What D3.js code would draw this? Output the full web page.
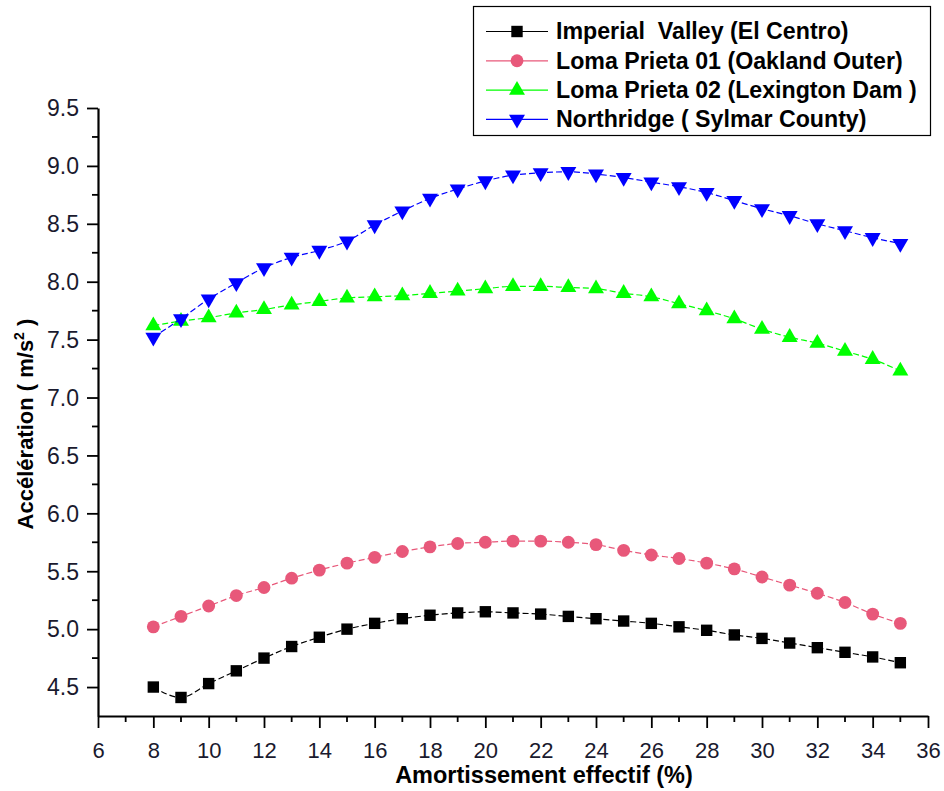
<!DOCTYPE html>
<html><head><meta charset="utf-8">
<script src="https://cdn.jsdelivr.net/npm/d3@7"></script>
<style>body{margin:0;background:#fff}svg{display:block}</style>
</head><body><svg id="c" width="944" height="791"></svg>
<script>
const xValues = [8,9,10,11,12,13,14,15,16,17,18,19,20,21,22,23,24,25,26,27,28,29,30,31,32,33,34,35];
const imperialValley = [4.50,4.41,4.53,4.64,4.75,4.85,4.93,5.00,5.05,5.09,5.12,5.14,5.15,5.14,5.13,5.11,5.09,5.07,5.05,5.02,4.99,4.95,4.92,4.88,4.84,4.80,4.76,4.71];
const lomaPrieta01 = [5.02,5.11,5.20,5.29,5.36,5.44,5.51,5.57,5.62,5.67,5.71,5.74,5.75,5.76,5.76,5.75,5.73,5.68,5.64,5.61,5.57,5.52,5.45,5.38,5.31,5.23,5.13,5.05];
const lomaPrieta02 = [7.62,7.66,7.69,7.73,7.76,7.80,7.83,7.86,7.87,7.88,7.90,7.92,7.94,7.96,7.96,7.95,7.94,7.90,7.87,7.81,7.75,7.68,7.59,7.52,7.47,7.40,7.33,7.23];
const northridge = [7.52,7.68,7.85,7.99,8.12,8.21,8.27,8.35,8.49,8.61,8.72,8.80,8.87,8.92,8.94,8.95,8.93,8.90,8.86,8.82,8.77,8.70,8.63,8.57,8.50,8.44,8.38,8.33];
const seriesNames = ["Imperial  Valley (El Centro)","Loma Prieta 01 (Oakland Outer)","Loma Prieta 02 (Lexington Dam )","Northridge ( Sylmar County)"];
const seriesColors = ["#000000","#e8587a","#00ff00","#0000ff"];
const seriesSymbols = ["square","circle","triangleUp","triangleDown"];
const xTicks = [6,8,10,12,14,16,18,20,22,24,26,28,30,32,34,36];
const yTicks = [4.5,5.0,5.5,6.0,6.5,7.0,7.5,8.0,8.5,9.0,9.5];

const svg = d3.select("#c");
const x = d3.scaleLinear().domain([6,36]).range([98,928]);
const y = d3.scaleLinear().domain([4.25,9.5]).range([716,108]);
const font = "'Liberation Sans',Arial,sans-serif";
const tickColor = "#1a1a2e";

// Axes
const xAxis = d3.axisBottom(x).tickValues(xTicks).tickFormat(d3.format("d")).tickSize(12).tickSizeOuter(0);
const gx = svg.append("g").attr("transform","translate(0,716)").call(xAxis);
gx.select(".domain").attr("stroke","#000").attr("stroke-width",2.2);
gx.selectAll(".tick line").attr("stroke","#000").attr("stroke-width",1.8);
gx.selectAll(".tick text").attr("font-family",font).attr("font-size",22).attr("fill",tickColor)
  .attr("y",34).attr("dy","0.36em");
const xMinor = d3.range(7,36,2);
svg.append("g").selectAll("line").data(xMinor).join("line")
  .attr("x1",d=>x(d)).attr("x2",d=>x(d)).attr("y1",716).attr("y2",722)
  .attr("stroke","#000").attr("stroke-width",1.8);

const yAxis = d3.axisLeft(y).tickValues(yTicks).tickFormat(d3.format(".1f")).tickSize(11).tickSizeOuter(0);
const gy = svg.append("g").attr("transform","translate(98,0)").call(yAxis);
gy.select(".domain").attr("stroke","#000").attr("stroke-width",2.2);
gy.selectAll(".tick line").attr("stroke","#000").attr("stroke-width",1.8);
gy.selectAll(".tick text").attr("font-family",font).attr("font-size",23).attr("fill",tickColor)
  .attr("x",-19).attr("dy","0.34em");
const yMinor = [4.75,5.25,5.75,6.25,6.75,7.25,7.75,8.25,8.75,9.25];
svg.append("g").selectAll("line").data(yMinor).join("line")
  .attr("x1",92).attr("x2",98).attr("y1",d=>y(d)).attr("y2",d=>y(d))
  .attr("stroke","#000").attr("stroke-width",1.8);

// Axis titles
svg.append("text").attr("x",544).attr("y",783).attr("text-anchor","middle")
  .attr("font-family",font).attr("font-weight","bold").attr("font-size",23.5).attr("fill","#000")
  .text("Amortissement effectif (%)");
const yt = svg.append("text").attr("transform","translate(33,424) rotate(-90)").attr("text-anchor","middle")
  .attr("font-family",font).attr("font-weight","bold").attr("font-size",22).attr("fill","#000");
yt.append("tspan").text("Accélération ( m/s");
yt.append("tspan").attr("dy",-9).attr("font-size",14).text("2");
yt.append("tspan").attr("dy",9).text(" )");

// Symbols
const symMap = {square:d3.symbolSquare, circle:d3.symbolCircle, triangleUp:d3.symbolTriangle, triangleDown:d3.symbolTriangle};
const symSize = {square:130, circle:130, triangleUp:110, triangleDown:110};
function drawSym(g, type, color){
  const p = g.append("path").attr("d", d3.symbol().type(symMap[type]).size(symSize[type])()).attr("fill",color);
  if(type==="triangleDown") p.attr("transform","rotate(180)");
  return p;
}

const allSeries = [imperialValley, lomaPrieta01, lomaPrieta02, northridge];
const line = d3.line().x((d,i)=>x(xValues[i])).y(d=>y(d)).curve(d3.curveMonotoneX);
allSeries.forEach((vals,k)=>{
  const g = svg.append("g");
  g.append("path").attr("d",line(vals)).attr("fill","none").attr("stroke",seriesColors[k])
    .attr("stroke-width",1.2).attr("stroke-dasharray","6,3");
  vals.forEach((v,i)=>{
    const mg = g.append("g").attr("transform",`translate(${x(xValues[i])},${y(v)})`);
    drawSym(mg, seriesSymbols[k], seriesColors[k]);
  });
});

// Legend
const lg = svg.append("g");
lg.append("rect").attr("x",473.5).attr("y",6.5).attr("width",457).attr("height",129)
  .attr("fill","#fff").attr("stroke","#000").attr("stroke-width",1.2);
seriesNames.forEach((name,k)=>{
  const ly = 31.5 + k*29.3;
  lg.append("line").attr("x1",486).attr("x2",548).attr("y1",ly).attr("y2",ly)
    .attr("stroke",seriesColors[k]).attr("stroke-width",1.2);
  const mg = lg.append("g").attr("transform",`translate(517,${ly})`);
  drawSym(mg, seriesSymbols[k], seriesColors[k]);
  lg.append("text").attr("x",556).attr("y",ly+7.8)
    .attr("font-family",font).attr("font-weight","bold").attr("font-size",23.2).attr("fill","#000")
    .attr("xml:space","preserve").style("white-space","pre").text(name);
});
</script></body></html>
